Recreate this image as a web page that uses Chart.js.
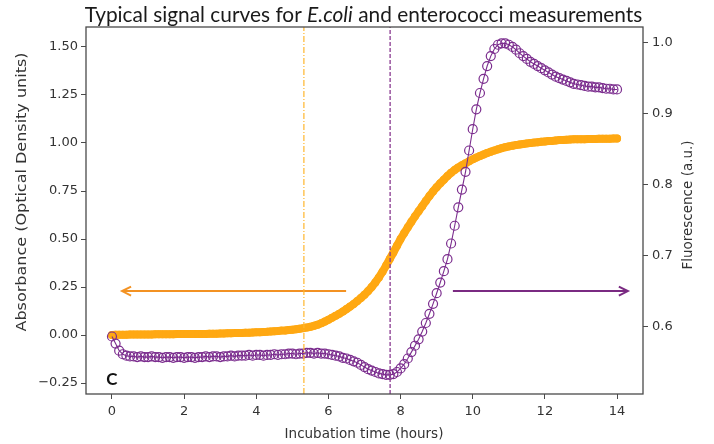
<!DOCTYPE html>
<html><head><meta charset="utf-8">
<script src="https://cdn.jsdelivr.net/npm/chart.js@4.4.1/dist/chart.umd.min.js"></script>
<style>html,body{margin:0;padding:0;background:#fff;}#wrap{position:relative;width:714px;height:444px;}</style>
</head><body><div id="wrap"><canvas id="c" width="714" height="444"></canvas></div>
<script>
// ---- data ----
const hours = [
0.0,0.1,0.2,0.3,0.4,0.5,0.6,0.7,0.8,0.9,
1.0,1.1,1.2,1.3,1.4,1.5,1.6,1.7,1.8,1.9,
2.0,2.1,2.2,2.3,2.4,2.5,2.6,2.7,2.8,2.9,
3.0,3.1,3.2,3.3,3.4,3.5,3.6,3.7,3.8,3.9,
4.0,4.1,4.2,4.3,4.4,4.5,4.6,4.7,4.8,4.9,
5.0,5.1,5.2,5.3,5.4,5.5,5.6,5.7,5.8,5.9,
6.0,6.1,6.2,6.3,6.4,6.5,6.6,6.7,6.8,6.9,
7.0,7.1,7.2,7.3,7.4,7.5,7.6,7.7,7.8,7.9,
8.0,8.1,8.2,8.3,8.4,8.5,8.6,8.7,8.8,8.9,
9.0,9.1,9.2,9.3,9.4,9.5,9.6,9.7,9.8,9.9,
10.0,10.1,10.2,10.3,10.4,10.5,10.6,10.7,10.8,10.9,
11.0,11.1,11.2,11.3,11.4,11.5,11.6,11.7,11.8,11.9,
12.0,12.1,12.2,12.3,12.4,12.5,12.6,12.7,12.8,12.9,
13.0,13.1,13.2,13.3,13.4,13.5,13.6,13.7,13.8,13.9,
14.0];
const absorbance = [
0.000,0.001,0.002,0.002,0.002,0.003,0.003,0.003,0.003,0.003,
0.003,0.003,0.004,0.004,0.004,0.004,0.004,0.004,0.005,0.005,
0.005,0.005,0.005,0.006,0.006,0.006,0.006,0.007,0.007,0.007,
0.008,0.008,0.009,0.009,0.010,0.010,0.011,0.012,0.012,0.013,
0.014,0.015,0.016,0.017,0.019,0.020,0.021,0.023,0.024,0.026,
0.028,0.030,0.033,0.036,0.039,0.043,0.048,0.054,0.061,0.070,
0.080,0.090,0.100,0.111,0.122,0.135,0.148,0.162,0.177,0.193,
0.210,0.229,0.250,0.274,0.300,0.330,0.362,0.396,0.430,0.465,
0.500,0.531,0.561,0.590,0.618,0.645,0.671,0.698,0.724,0.748,
0.770,0.790,0.809,0.828,0.845,0.860,0.873,0.884,0.894,0.905,
0.915,0.924,0.932,0.940,0.948,0.955,0.961,0.967,0.973,0.978,
0.982,0.986,0.989,0.992,0.995,0.998,1.000,1.002,1.004,1.006,
1.008,1.010,1.011,1.013,1.015,1.016,1.017,1.018,1.019,1.019,
1.020,1.020,1.021,1.021,1.021,1.022,1.022,1.022,1.022,1.023,
1.023];
const fluorescence = [
0.586,0.576,0.566,0.561,0.559,0.558,0.558,0.557,0.558,0.557,
0.557,0.558,0.557,0.557,0.556,0.557,0.557,0.556,0.557,0.557,
0.556,0.557,0.557,0.556,0.557,0.557,0.558,0.557,0.558,0.558,
0.557,0.558,0.558,0.559,0.558,0.559,0.559,0.559,0.560,0.559,
0.560,0.560,0.559,0.560,0.560,0.561,0.560,0.561,0.561,0.562,
0.562,0.561,0.562,0.562,0.563,0.563,0.562,0.563,0.562,0.562,
0.561,0.560,0.559,0.558,0.556,0.555,0.553,0.551,0.549,0.546,
0.543,0.540,0.538,0.536,0.534,0.533,0.532,0.532,0.533,0.536,
0.541,0.547,0.555,0.564,0.573,0.582,0.593,0.605,0.618,0.632,
0.647,0.662,0.678,0.695,0.717,0.742,0.768,0.793,0.818,0.848,
0.878,0.906,0.929,0.949,0.967,0.981,0.991,0.997,0.999,0.999,
0.997,0.994,0.990,0.985,0.981,0.977,0.973,0.970,0.967,0.964,
0.961,0.958,0.955,0.952,0.950,0.948,0.946,0.944,0.942,0.941,
0.940,0.939,0.938,0.938,0.937,0.937,0.936,0.935,0.935,0.934,
0.934];
const xTicks = [0,2,4,6,8,10,12,14];
const absTicks = [-0.25,0,0.25,0.5,0.75,1.0,1.25,1.5];
const fluTicks = [0.6,0.7,0.8,0.9,1.0];
const xRange = [-0.72, 14.72];
const absRange = [-0.307, 1.604];
const fluRange = [0.505, 1.022];
const absThresholdTime = 5.32;   // orange vertical line
const fluThresholdTime = 7.71;   // purple vertical line
const absArrow = [[6.49, 0.229], [0.28, 0.229]];
const fluArrow = [[9.45, 0.65], [14.3, 0.65]];
const panelLabel = {text: 'C', x: 0.0, y: -0.23};
const titleParts = [['Typical signal curves for ', false], ['E.coli', true], [' and enterococci measurements', false]];
const xTitle = 'Incubation time (hours)';
const yTitle = 'Absorbance (Optical Density units)';
const y1Title = 'Fluorescence (a.u.)';

// ---- style ----
const PURPLE = '#7b2d8e';
const ORANGE = '#ffa812';
const TICKFONT = {family: 'DejaVu Sans', size: 13};
const pts = (ys) => hours.map((h, i) => ({x: h, y: ys[i]}));

const deco = {
  id: 'deco',
  afterDatasetsDraw(chart) {
    const ctx = chart.ctx;
    chart.data.datasets.forEach((ds, i) => {
      if (!ds.arrow) return;
      const p = chart.getDatasetMeta(i).data;
      const a = p[p.length - 2], b = p[p.length - 1];
      const ang = Math.atan2(b.y - a.y, b.x - a.x);
      const L = 9, W = 4.5;
      ctx.save();
      ctx.strokeStyle = ds.borderColor; ctx.lineWidth = ds.borderWidth;
      ctx.beginPath();
      ctx.moveTo(b.x - L * Math.cos(ang) + W * Math.sin(ang), b.y - L * Math.sin(ang) - W * Math.cos(ang));
      ctx.lineTo(b.x, b.y);
      ctx.lineTo(b.x - L * Math.cos(ang) - W * Math.sin(ang), b.y - L * Math.sin(ang) + W * Math.cos(ang));
      ctx.stroke();
      ctx.restore();
    });
  },
  afterDraw(chart) {
    const ctx = chart.ctx, ca = chart.chartArea;
    ctx.save();
    ctx.strokeStyle = '#4a4a4a'; ctx.lineWidth = 1.3;
    ctx.strokeRect(ca.left, ca.top, ca.right - ca.left, ca.bottom - ca.top);
    // title
    const tw = 558;
    const measure = (size) => titleParts.reduce((s, [t, it]) => { ctx.font = (it ? 'italic ' : '') + size + 'px Lato'; return s + ctx.measureText(t).width; }, 0);
    const fs = 20 * tw / measure(20);
    let x = 363.5 - measure(fs) / 2;
    ctx.fillStyle = '#1a1a1a'; ctx.textBaseline = 'alphabetic'; ctx.textAlign = 'left';
    titleParts.forEach(([t, it]) => { ctx.font = (it ? 'italic ' : '') + fs + 'px Lato'; ctx.fillText(t, x, 22); x += ctx.measureText(t).width; });
    // axis titles
    ctx.fillStyle = '#333'; ctx.textAlign = 'center'; ctx.textBaseline = 'middle';
    ctx.font = '13.5px "DejaVu Sans"';
    ctx.fillText(xTitle, 364, 434);
    ctx.save(); ctx.translate(22, 192); ctx.rotate(-Math.PI / 2); ctx.scale(1, 0.85);
    ctx.font = '16px "DejaVu Sans"'; ctx.fillText(yTitle, 0, 0); ctx.restore();
    ctx.save(); ctx.translate(688, 205); ctx.rotate(-Math.PI / 2);
    ctx.font = '13.5px "DejaVu Sans"'; ctx.fillText(y1Title, 0, 0); ctx.restore();
    // panel label
    const sx = chart.scales.x, sy = chart.scales.y;
    ctx.fillStyle = '#111'; ctx.font = 'bold 17px Lato';
    ctx.fillText(panelLabel.text, sx.getPixelForValue(panelLabel.x), sy.getPixelForValue(panelLabel.y));
    ctx.restore();
  }
};

new Chart(document.getElementById('c'), {
  type: 'line',
  data: {
    datasets: [
      {label: 'abs threshold', data: [{x: absThresholdTime, y: absRange[0]}, {x: absThresholdTime, y: absRange[1]}], yAxisID: 'y',
       borderColor: '#ffb62e', borderWidth: 1.2, borderDash: [6, 2, 1, 2], pointRadius: 0, order: 0},
      {label: 'flu threshold', data: [{x: fluThresholdTime, y: absRange[0]}, {x: fluThresholdTime, y: absRange[1]}], yAxisID: 'y',
       borderColor: '#8a3a90', borderWidth: 1.3, borderDash: [4, 2], pointRadius: 0, order: 0},
      {label: 'abs arrow', arrow: true, data: absArrow.map(([x, y]) => ({x, y})), yAxisID: 'y',
       borderColor: '#f39223', borderWidth: 2, pointRadius: 0, order: 0},
      {label: 'flu arrow', arrow: true, data: fluArrow.map(([x, y]) => ({x, y})), yAxisID: 'y1',
       borderColor: '#7a2a82', borderWidth: 2, pointRadius: 0, order: 0},
      {label: 'Fluorescence', data: pts(fluorescence), yAxisID: 'y1', borderColor: PURPLE, borderWidth: 1.1,
       pointRadius: 4.5, pointBorderWidth: 1.2, pointBorderColor: PURPLE, pointBackgroundColor: 'rgba(0,0,0,0)', order: 1},
      {label: 'Absorbance', data: pts(absorbance), yAxisID: 'y', borderColor: ORANGE, borderWidth: 8,
       borderCapStyle: 'round', borderJoinStyle: 'round', showLine: true,
       pointRadius: 4, pointBorderWidth: 0, pointBackgroundColor: ORANGE, order: 2}
    ]
  },
  options: {
    responsive: false, animation: false,
    layout: {padding: {left: 0, right: 0, top: 27, bottom: 0}},
    plugins: {legend: {display: false}, tooltip: {enabled: false}, title: {display: false}},
    scales: {
      x: {type: 'linear', min: xRange[0], max: xRange[1],
        afterBuildTicks: s => { s.ticks = xTicks.map(v => ({value: v})); },
        afterFit: s => { s.height = 50; },
        grid: {drawOnChartArea: false, drawTicks: true, tickLength: 5, color: '#4a4a4a'},
        border: {display: false},
        ticks: {font: TICKFONT, color: '#333', padding: 5, maxRotation: 0, autoSkip: false, callback: v => String(v)}},
      y: {type: 'linear', position: 'left', min: absRange[0], max: absRange[1],
        afterBuildTicks: s => { s.ticks = absTicks.map(v => ({value: v})); },
        afterFit: s => { s.width = 86; },
        grid: {drawOnChartArea: false, drawTicks: true, tickLength: 5, color: '#4a4a4a'},
        border: {display: false},
        ticks: {font: TICKFONT, color: '#333', padding: 3, autoSkip: false, callback: v => (v < 0 ? '\u2212' : '') + Math.abs(v).toFixed(2)}},
      y1: {type: 'linear', position: 'right', min: fluRange[0], max: fluRange[1],
        afterBuildTicks: s => { s.ticks = fluTicks.map(v => ({value: v})); },
        afterFit: s => { s.width = 71; },
        grid: {drawOnChartArea: false, drawTicks: true, tickLength: 5, color: '#4a4a4a'},
        border: {display: false},
        ticks: {font: TICKFONT, color: '#333', padding: 4, autoSkip: false, callback: v => v.toFixed(1)}}
    }
  },
  plugins: [deco]
});
</script></body></html>
